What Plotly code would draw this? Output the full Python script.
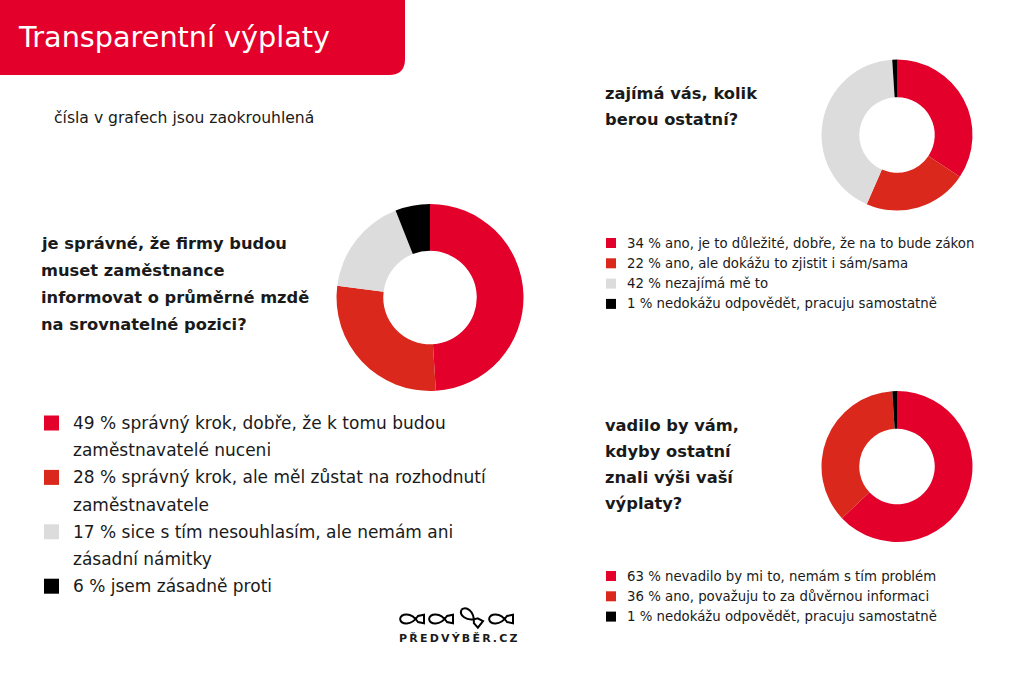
import math
import plotly.graph_objects as go

W, H = 1024, 682

# ---------------- data ----------------
title = "Transparentní výplaty"
subtitle = "čísla v grafech jsou zaokrouhlená"

q1_lines = ["je správné, že firmy budou", "muset zaměstnance",
            "informovat o průměrné mzdě", "na srovnatelné pozici?"]
q1_values = [49, 28, 17, 6]
q1_labels = [["správný krok, dobře, že k tomu budou", "zaměstnavatelé nuceni"],
             ["správný krok, ale měl zůstat na rozhodnutí", "zaměstnavatele"],
             ["sice s tím nesouhlasím, ale nemám ani", "zásadní námitky"],
             ["jsem zásadně proti"]]

q2_lines = ["zajímá vás, kolik", "berou ostatní?"]
q2_values = [34, 22, 42, 1]
q2_labels = ["ano, je to důležité, dobře, že na to bude zákon",
             "ano, ale dokážu to zjistit i sám/sama",
             "nezajímá mě to",
             "nedokážu odpovědět, pracuju samostatně"]

q3_lines = ["vadilo by vám,", "kdyby ostatní", "znali výši vaší", "výplaty?"]
q3_values = [63, 36, 1]
q3_labels = ["nevadilo by mi to, nemám s tím problém",
             "ano, považuju to za důvěrnou informaci",
             "nedokážu odpovědět, pracuju samostatně"]

logo_text = "PŘEDVÝBĚR.CZ"

RED = "#E3002B"
RED2 = "#DA291C"
GRAY = "#DCDCDC"
BLACK = "#000000"
q1_colors = [RED, RED2, GRAY, BLACK]
q2_colors = [RED, RED2, GRAY, BLACK]
q3_colors = [RED, RED2, BLACK]

FONT = "DejaVu Sans"
TXT = "#1a1a1a"


def px(x):
    return x / W


def py(y):
    return 1 - y / H


def dom(cx, cy, r):
    return dict(x=[px(cx - r), px(cx + r)], y=[py(cy + r), py(cy - r)])


fig = go.Figure()


def donut(values, colors, labels, cx, cy, r):
    fig.add_trace(go.Pie(
        values=values, labels=labels, marker=dict(colors=colors, line=dict(width=0)),
        hole=0.5, sort=False, direction="clockwise", rotation=0,
        textinfo="none", domain=dom(cx, cy, r), showlegend=False,
        hovertemplate="%{value} %%<extra></extra>"))


donut(q1_values, q1_colors, [l[0] for l in q1_labels], 430, 297.5, 93.5)
donut(q2_values, q2_colors, q2_labels, 897, 135, 75.5)
donut(q3_values, q3_colors, q3_labels, 897, 466.5, 75.5)

shapes = []
annotations = []


def text(x, y, s, size, color=TXT, bold=False, anchor="left"):
    annotations.append(dict(
        x=px(x), y=py(y), xref="paper", yref="paper", text=f"<b>{s}</b>" if bold else s,
        showarrow=False, xanchor=anchor, yanchor="middle",
        font=dict(family=FONT, size=size, color=color)))


def square(x, y, s, color):
    shapes.append(dict(type="rect", xref="paper", yref="paper",
                       x0=px(x), x1=px(x + s), y0=py(y + s / 2), y1=py(y - s / 2),
                       fillcolor=color, line=dict(width=0)))


# header
r = 16
x1, y1 = 405, 75
shapes.append(dict(
    type="path", xref="paper", yref="paper",
    path=(f"M 0,1 L {px(x1)},1 L {px(x1)},{py(y1 - r)} "
          f"Q {px(x1)},{py(y1)} {px(x1 - r)},{py(y1)} L 0,{py(y1)} Z"),
    fillcolor=RED, line=dict(width=0)))
text(16, 37, title, 28.7, color="white")
text(52, 118, subtitle, 15.6)

# question 1
for i, line in enumerate(q1_lines):
    text(39, 243 + 27 * i, line, 16.3, bold=True)

row = 0
for v, lab, c in zip(q1_values, q1_labels, q1_colors):
    y = 423 + 27.2 * row
    square(44, y, 15, c)
    for j, part in enumerate(lab):
        s = f"{v} % {part}" if j == 0 else part
        text(71, 423 + 27.2 * row, s, 17)
        row += 1

# question 2
for i, line in enumerate(q2_lines):
    text(603, 93 + 26.5 * i, line, 16.3, bold=True)
for i, (v, lab, c) in enumerate(zip(q2_values, q2_labels, q2_colors)):
    y = 243 + 20.3 * i
    square(606, y, 10, c)
    text(625, y, f"{v} % {lab}", 13.3)

# question 3
for i, line in enumerate(q3_lines):
    text(603, 425 + 26.3 * i, line, 16.3, bold=True)
for i, (v, lab, c) in enumerate(zip(q3_values, q3_labels, q3_colors)):
    y = 576 + 20.3 * i
    square(606, y, 10, c)
    text(625, y, f"{v} % {lab}", 13.3)


# logo fish
def fish(x, cy, w, h, ang=0.0):
    ca, sa = math.cos(math.radians(ang)), math.sin(math.radians(ang))
    px0 = w / 2

    def tr(a, b):
        a2 = a - px0
        return (x + px0 + a2 * ca - b * sa, cy + a2 * sa + b * ca)

    def P(p):
        return f"{px(p[0])},{py(p[1])}"

    h0 = tr(0, 0)
    a1 = tr(w * 0.05, -h * 0.55)
    b1 = tr(w * 0.45, -h * 0.75)
    t1 = tr(w * 0.75, h * 0.3)
    t2 = tr(w * 0.75, -h * 0.3)
    a2 = tr(w * 0.45, h * 0.75)
    b2 = tr(w * 0.05, h * 0.55)
    e1 = tr(w, -h * 0.42)
    e2 = tr(w, h * 0.42)
    path = (f"M {P(h0)} C {P(a1)} {P(b1)} {P(t1)} L {P(e2)} L {P(e1)} L {P(t2)} "
            f"C {P(a2)} {P(b2)} {P(h0)}")
    shapes.append(dict(type="path", xref="paper", yref="paper", path=path,
                       line=dict(color=BLACK, width=2)))


fish(400, 619, 24, 10)
fish(429, 619, 24, 10)
fish(459, 617, 24, 10, ang=38)
fish(489, 619, 24, 10)

text(457.5, 638, "\u2009".join(logo_text), 11, bold=True, anchor="center")

fig.update_layout(
    width=W, height=H, margin=dict(l=0, r=0, t=0, b=0),
    paper_bgcolor="white", plot_bgcolor="white",
    shapes=shapes, annotations=annotations,
    xaxis=dict(visible=False), yaxis=dict(visible=False),
)

fig.write_html("out.html", config={"displayModeBar": False},
               post_script="document.body.style.margin='0';document.body.style.overflow='hidden';")
